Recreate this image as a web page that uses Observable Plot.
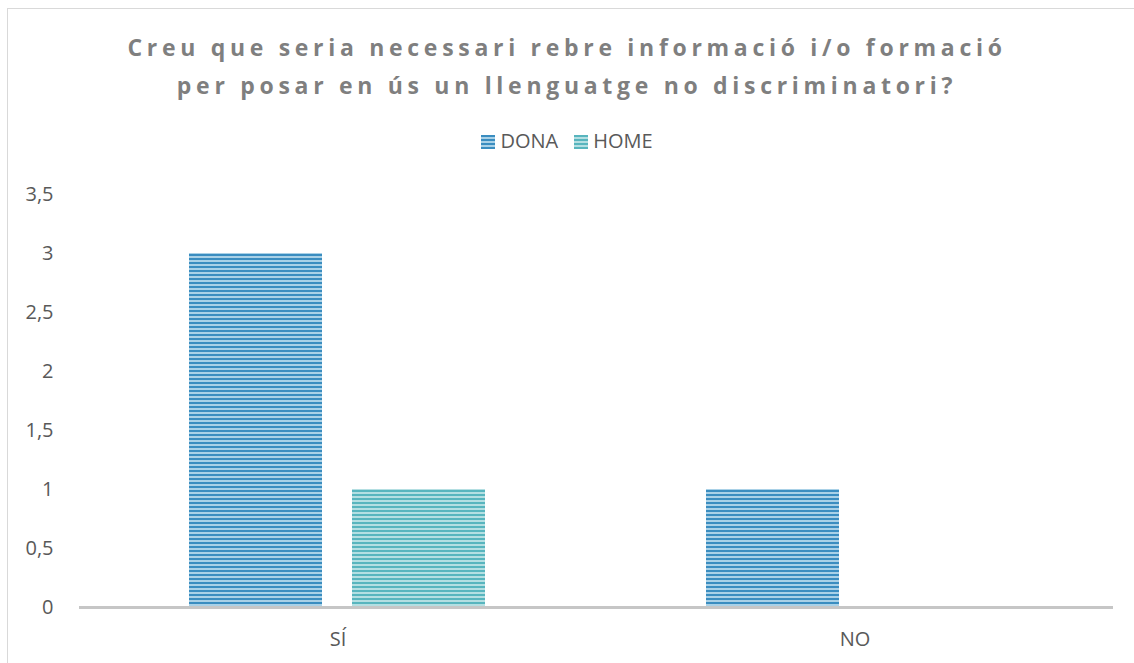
<!DOCTYPE html>
<html>
<head>
<meta charset="utf-8">
<script src="https://cdn.jsdelivr.net/npm/d3@7"></script>
<script src="https://cdn.jsdelivr.net/npm/@observablehq/plot@0.6"></script>
<style>
  html, body { margin: 0; padding: 0; background: #fff; overflow: hidden; }
  #wrap { position: relative; width: 1134px; height: 663px; font-family: "Open Sans", sans-serif; }
  #frame { position: absolute; left: 7px; top: 8px; width: 1200px; height: 700px; border: 1.5px solid #d9d9d9; pointer-events: none; }
  #head { height: 170px; position: relative; }
  #title { position: absolute; top: 28px; left: 0; width: 1134px; text-align: center; font-weight: bold; font-size: 23px; line-height: 38px; letter-spacing: 4.7px; color: #7f7f7f; }
  #legend { position: absolute; top: 127px; left: 0; width: 1134px; text-align: center; font-size: 20px; color: #595959; }
  .sw { display: inline-block; width: 14px; height: 14px; margin-right: 5px; vertical-align: -1px; }
  .item { margin: 0 8px; }
</style>
</head>
<body>
<div id="wrap">
  <div id="frame"></div>
  <div id="head">
    <div id="title">Creu que seria necessari rebre informació i/o formació<br>per posar en ús un llenguatge no discriminatori?</div>
    <div id="legend"></div>
  </div>
  <div id="chart"></div>
</div>
<script>
const categories = ["SÍ", "NO"];
const series = ["DONA", "HOME"];
const dona = [3, 1];
const home = [1, 0];
const yTicks = [0, 0.5, 1, 1.5, 2, 2.5, 3, 3.5];

const patterns = {
  DONA: {id: "patDona", dark: "#3a8dc0", light: "#a9d1e7"},
  HOME: {id: "patHome", dark: "#58b5be", light: "#b4dfe2"}
};

const data = [];
categories.forEach((c, i) => {
  data.push({cat: c, series: "DONA", value: dona[i]});
  data.push({cat: c, series: "HOME", value: home[i]});
});

// legend
const legend = document.getElementById("legend");
series.forEach(s => {
  const span = document.createElement("span");
  span.className = "item";
  span.innerHTML = `<span class="sw" style="background: repeating-linear-gradient(to bottom, ${patterns[s].dark} 0 2px, ${patterns[s].light} 2px 4px)"></span>${s}`;
  legend.appendChild(span);
});

const chart = Plot.plot({
  width: 1134,
  height: 493,
  marginTop: 24,
  marginBottom: 56,
  marginLeft: 78,
  marginRight: 21,
  style: {fontFamily: "Open Sans, sans-serif", fontSize: "20px", color: "#595959", background: "transparent"},
  fx: {domain: categories, padding: 0, label: null, tickSize: 0, tickPadding: 24, axis: "bottom"},
  x: {domain: series, paddingInner: 0.183, paddingOuter: 0.669, axis: null},
  y: {domain: [0, 3.5], ticks: yTicks, tickFormat: d => String(d).replace(".", ","), tickSize: 0, tickPadding: 26, label: null},
  marks: [
    Plot.barY(data.filter(d => d.series === "DONA"), {fx: "cat", x: "series", y: "value", fill: "url(#patDona)"}),
    Plot.barY(data.filter(d => d.series === "HOME"), {fx: "cat", x: "series", y: "value", fill: "url(#patHome)"}),
    Plot.ruleY([0], {stroke: "#c6c6c6", strokeWidth: 3})
  ]
});

// add stripe patterns
const svgNS = "http://www.w3.org/2000/svg";
const defs = document.createElementNS(svgNS, "defs");
Object.values(patterns).forEach(p => {
  const pat = document.createElementNS(svgNS, "pattern");
  pat.setAttribute("id", p.id);
  pat.setAttribute("patternUnits", "userSpaceOnUse");
  pat.setAttribute("width", "8");
  pat.setAttribute("height", "4");
  const r1 = document.createElementNS(svgNS, "rect");
  r1.setAttribute("width", "8"); r1.setAttribute("height", "4"); r1.setAttribute("fill", p.light);
  const r2 = document.createElementNS(svgNS, "rect");
  r2.setAttribute("width", "8"); r2.setAttribute("height", "2"); r2.setAttribute("fill", p.dark);
  pat.appendChild(r1); pat.appendChild(r2);
  defs.appendChild(pat);
});
chart.insertBefore(defs, chart.firstChild);
document.getElementById("chart").appendChild(chart);
</script>
</body>
</html>
